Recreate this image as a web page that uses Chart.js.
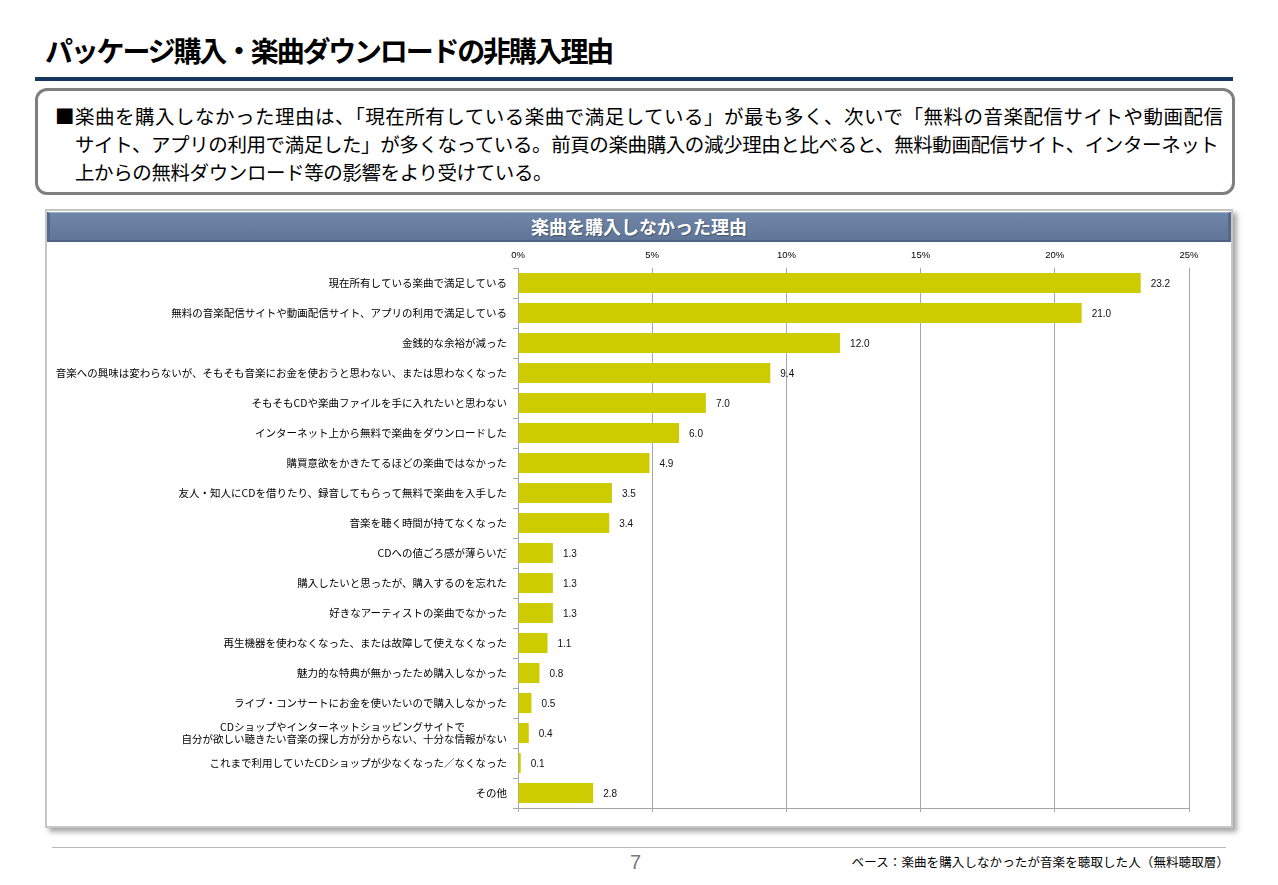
<!DOCTYPE html>
<html lang="ja">
<head>
<meta charset="utf-8">
<script src="https://cdn.jsdelivr.net/npm/chart.js@4"></script>
<style>
  body { margin: 0; width: 1278px; height: 885px; background: #fff; position: relative; overflow: hidden;
         font-family: "Noto Sans CJK JP", "Noto Sans", sans-serif; color: #000; }
  .abs { position: absolute; }
  #title { left: 45px; top: 30px; font-size: 28px; font-weight: 700; letter-spacing: -2.2px; line-height: 40px; white-space: nowrap; }
  #rule { left: 35px; top: 77px; width: 1198px; height: 4px; background: #17375e; }
  #note { left: 35px; top: 88px; width: 1200px; height: 107px; box-sizing: border-box; border: 3px solid #7f7f7f; border-radius: 12px; }
  #note div { position: absolute; left: 17px; font-size: 19.5px; line-height: 28px; white-space: nowrap; }
  #panel { left: 45px; top: 209px; width: 1188px; height: 619px; box-sizing: border-box; border: 2px solid #c6c6c6; background: #fff;
           box-shadow: 4px 4px 5px rgba(0,0,0,0.35); }
  #head { left: 47px; top: 212px; width: 1184px; height: 30px; background: linear-gradient(#6f86a8, #5f7699);
          border-top: 1px solid #9fb0c8; border-bottom: 2px solid #4d6283; border-left: 3px solid #55698a; border-right: 3px solid #55698a;
          box-sizing: border-box; color: #fff; font-size: 18px; font-weight: 700; text-align: center; line-height: 27px;
          text-shadow: 1px 1px 1px rgba(0,0,0,0.3); }
  #chartbox { left: 45px; top: 243px; width: 1188px; height: 583px; }
  #footrule { left: 52px; top: 847px; width: 1174px; height: 1px; background: #b8b8b8; }
  #page { left: 630px; top: 851px; font-size: 20px; color: #7a7a7a; font-family: "Liberation Sans", sans-serif; }
  #base { right: 49px; top: 852px; font-size: 12.5px; white-space: nowrap; letter-spacing: 0.1px; }
</style>
</head>
<body>
<div id="title" class="abs">パッケージ購入・楽曲ダウンロードの非購入理由</div>
<div id="rule" class="abs"></div>
<div id="note" class="abs">
  <div style="top:11px; letter-spacing:0.5px">■楽曲を購入しなかった理由は、「現在所有している楽曲で満足している」が最も多く、次いで「無料の音楽配信サイトや動画配信</div>
  <div style="top:39px; left:37px; letter-spacing:-0.4px">サイト、アプリの利用で満足した」が多くなっている。前頁の楽曲購入の減少理由と比べると、無料動画配信サイト、インターネット</div>
  <div style="top:67px; left:37px; letter-spacing:-0.4px">上からの無料ダウンロード等の影響をより受けている。</div>
</div>
<div id="panel" class="abs"></div>
<div id="head" class="abs">楽曲を購入しなかった理由</div>
<div id="chartbox" class="abs"><canvas id="chart" width="1188" height="583"></canvas></div>
<div id="footrule" class="abs"></div>
<div id="page" class="abs">7</div>
<div id="base" class="abs">ベース：楽曲を購入しなかったが音楽を聴取した人（無料聴取層）</div>

<script>
// reasons (y axis), top to bottom
let reasons = [
    '現在所有している楽曲で満足している',
    '無料の音楽配信サイトや動画配信サイト、アプリの利用で満足している',
    '金銭的な余裕が減った',
    '音楽への興味は変わらないが、そもそも音楽にお金を使おうと思わない、または思わなくなった',
    'そもそもCDや楽曲ファイルを手に入れたいと思わない',
    'インターネット上から無料で楽曲をダウンロードした',
    '購買意欲をかきたてるほどの楽曲ではなかった',
    '友人・知人にCDを借りたり、録音してもらって無料で楽曲を入手した',
    '音楽を聴く時間が持てなくなった',
    'CDへの値ごろ感が薄らいだ',
    '購入したいと思ったが、購入するのを忘れた',
    '好きなアーティストの楽曲でなかった',
    '再生機器を使わなくなった、または故障して使えなくなった',
    '魅力的な特典が無かったため購入しなかった',
    'ライブ・コンサートにお金を使いたいので購入しなかった',
    ['CDショップやインターネットショッピングサイトで　　　　', '自分が欲しい聴きたい音楽の探し方が分からない、十分な情報がない'],
    'これまで利用していたCDショップが少なくなった／なくなった',
    'その他'
];
// percentages
let shares = [23.2, 21.0, 12.0, 9.4, 7.0, 6.0, 4.9, 3.5, 3.4, 1.3, 1.3, 1.3, 1.1, 0.8, 0.5, 0.4, 0.1, 2.8];
let x_min = 0;
let x_max = 25;
let x_step = 5;

let grid_gray = '#a6a6a6';

// value labels to the right of each bar
let value_labels = {
    id: 'value_labels',
    afterDatasetsDraw(chart) {
        let ctx = chart.ctx;
        let meta = chart.getDatasetMeta(0);
        ctx.save();
        ctx.font = '10px "Liberation Sans", "DejaVu Sans", sans-serif';
        ctx.fillStyle = '#111';
        ctx.textAlign = 'left';
        ctx.textBaseline = 'middle';
        meta.data.forEach((bar, i) => {
            ctx.fillText(shares[i].toFixed(1), bar.x + 10, bar.y + 1);
        });
        ctx.restore();
    }
};

var ctx = document.getElementById('chart');
var chart = new Chart(ctx, {
    type: 'bar',
    data: {
        labels: reasons,
        datasets: [
            {
                data: shares,
                backgroundColor: '#cccc00',
                borderWidth: 0,
                barPercentage: 0.67,
                categoryPercentage: 1.0,
                xAxisID: 'x',
            }
        ],
    },
    options: {
        indexAxis: 'y',
        responsive: false,
        animation: false,
        devicePixelRatio: 1,
        layout: { padding: { left: 0, right: 44, top: 0, bottom: 0 } },
        scales: {
            x: {
                position: 'top',
                min: x_min,
                max: x_max,
                ticks: {
                    stepSize: x_step,
                    padding: 7,
                    color: '#000',
                    font: { size: 9.5, family: '"Liberation Sans", "DejaVu Sans", sans-serif' },
                    callback: (v) => v + '%',
                },
                grid: { color: grid_gray, drawTicks: false, lineWidth: 1 },
                border: { display: false },
                afterFit: (scale) => { scale.height = 25; },
            },
            x2: {
                position: 'bottom',
                min: x_min,
                max: x_max,
                ticks: { stepSize: x_step, display: false },
                grid: { drawOnChartArea: false, color: grid_gray, tickLength: 4 },
                border: { display: true, color: grid_gray },
                afterFit: (scale) => { scale.height = 18; },
            },
            y: {
                ticks: {
                    color: '#000',
                    padding: 6,
                    font: { size: 10.5, family: '"Noto Sans CJK JP", sans-serif' },
                },
                grid: { drawOnChartArea: false, color: grid_gray, tickLength: 5, offset: true },
                border: { display: true, color: grid_gray },
                afterFit: (scale) => { scale.width = 473; },
            },
        },
        plugins: {
            legend: { display: false },
            tooltip: { enabled: false },
            title: { display: false },
        },
    },
    plugins: [value_labels],
});
</script>
</body>
</html>
